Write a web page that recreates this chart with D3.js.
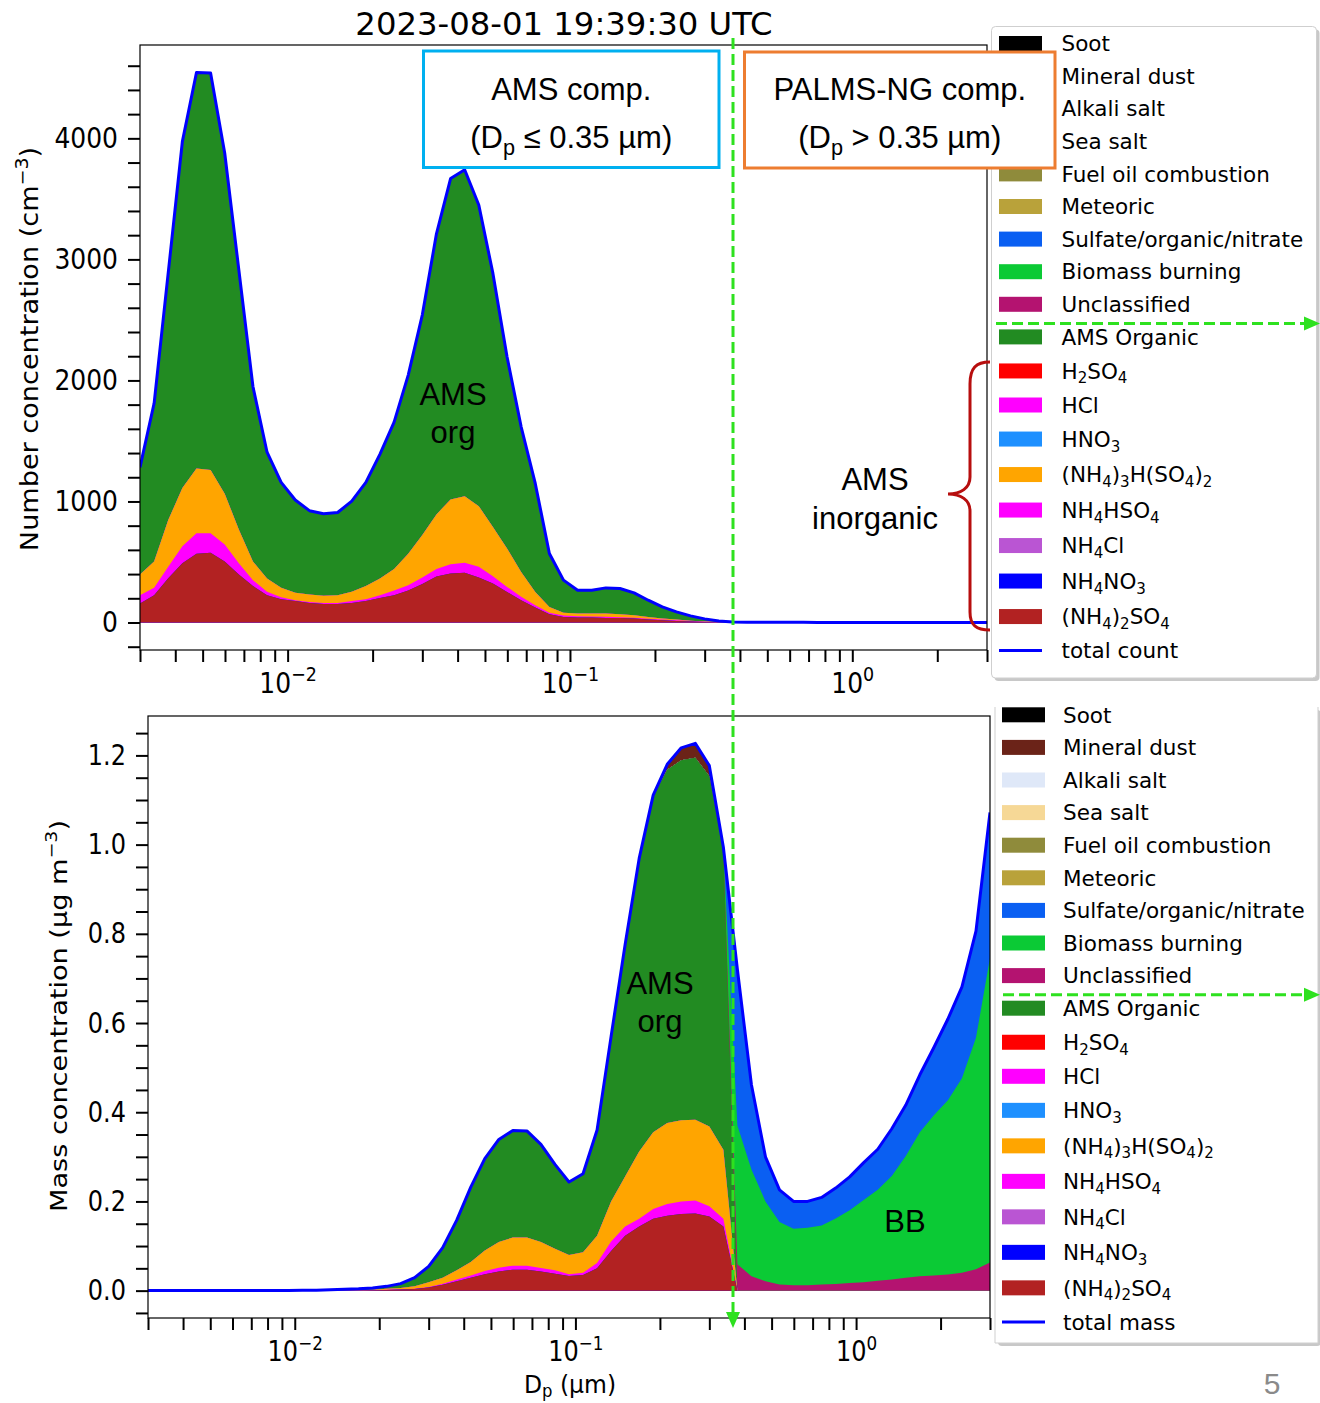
<!DOCTYPE html>
<html>
<head>
<meta charset="utf-8">
<script src="https://cdn.jsdelivr.net/npm/d3@7"></script>
<style>
  html, body { margin: 0; padding: 0; background: #fff; }
  svg { display: block; }
</style>
</head>
<body>
<svg id="fig" width="1320" height="1403"></svg>
<script>
// ---------------------------------------------------------------------------
// Size grid: particle diameter Dp (µm), 20 bins per decade
// ---------------------------------------------------------------------------
const dp = [
  0.003, 0.003366, 0.003777, 0.004238, 0.004755, 0.005335, 0.005986, 0.006716, 0.007536, 0.008455,
  0.009487, 0.010645, 0.011944, 0.013401, 0.015036, 0.016871, 0.018929, 0.021239, 0.02383, 0.026738,
  0.03, 0.03366, 0.037768, 0.042376, 0.047547, 0.053349, 0.059858, 0.067162, 0.075357, 0.084552,
  0.094868, 0.10645, 0.11944, 0.13401, 0.15036, 0.16871, 0.18929, 0.21239, 0.2383, 0.26738,
  0.3, 0.3366, 0.37768, 0.42376, 0.47547, 0.53349, 0.59858, 0.67162, 0.75357, 0.84552,
  0.94868, 1.0645, 1.1944, 1.3401, 1.5036, 1.6871, 1.8929, 2.1239, 2.383, 2.6738, 3.0
];
// AMS species cover dp[0..42]; PALMS-NG particle classes cover dp[35..60]
const AMS_START = 0;
const PALMS_START = 35;

// ---- Number concentration (cm^-3) ----
const numAmmSulfate = [156,225,365,489,567,576,504,396,302,225,193,178,162,153,153,162,178,202,225,265,318,380,405,410,372,322,253,184,124,69,46,41,41,38,38,33,25,19,13,9,5,2,0];
const numAmmBisulfate = [69,62,95,140,171,162,141,93,47,30,16,6,7,9,9,16,15,23,40,43,53,62,77,83,88,61,41,28,19,11,12,11,9,9,6,7,7,6,5,3,2,1,0];
const numLetovicite = [171,217,386,482,535,522,419,280,155,109,78,62,62,59,63,77,109,139,177,259,351,451,535,551,501,407,318,206,110,49,22,22,24,27,25,20,14,8,7,2,2,1,0];
const numAmsOrganic = [886,1307,2044,2862,3271,3279,2815,2146,1446,1043,871,766,693,678,684,748,856,1027,1213,1477,1820,2318,2651,2696,2488,2094,1583,1199,896,441,270,193,193,212,212,185,138,96,63,41,21,8,0];
const numSulfOrgNit = [0,0,0,0,0,0,0, 1.0,0.7,0.5,0.4,0.3,0.25,0.2,0.18,0.15,0.13,0.12,0.1,0.09,0.08,0.07,0.06,0.05,0.05,0.05];
const numBiomass = [0,0,0,0,0,0,0, 2.4,1.9,1.5,1.2,1.0,0.85,0.7,0.6,0.5,0.45,0.4,0.35,0.3,0.28,0.25,0.22,0.2,0.18,0.16];
const numUnclassified = [0,0,0,0,0,0,0, 0.6,0.3,0.2,0.15,0.1,0.1,0.1,0.1,0.08,0.08,0.07,0.06,0.05,0.05,0.04,0.04,0.04,0.03,0.03];

// ---- Mass concentration (µg m^-3) ----
const massAmmSulfate = [0,0,0,0,0,0,0,0,0,0,0,0,0, 0.0001,0.0002,0.0003,0.0008,0.0015,0.0025,0.0035,0.007,0.013,0.021,0.029,0.037,0.043,0.047,0.047,0.043,0.038,0.033,0.035,0.050,0.089,0.123,0.144,0.161,0.168,0.172,0.173,0.166,0.144, 0];
const massAmmBisulfate = [0,0,0,0,0,0,0,0,0,0,0,0,0, 0,0,0.0001,0.0002,0.0005,0.0005,0.0005,0.001,0.0027,0.0037,0.005,0.007,0.0085,0.009,0.009,0.008,0.0075,0.0038,0.005,0.012,0.021,0.021,0.017,0.022,0.026,0.028,0.029,0.023,0.017, 0];
const massLetovicite = [0,0,0,0,0,0,0,0,0,0,0,0,0, 0.0002,0.0003,0.0006,0.001,0.002,0.003,0.0056,0.011,0.0133,0.0208,0.030,0.046,0.0575,0.063,0.063,0.058,0.0485,0.0432,0.046,0.061,0.090,0.112,0.151,0.172,0.182,0.182,0.181,0.179,0.155, 0];
const massAmsOrganic = [0.0001,0.0001,0.0001,0.0001,0.0002,0.0002,0.0002,0.0003,0.0003,0.0004,0.0005,0.0006,0.0008, 0.0017,0.0025,0.003,0.004,0.0056,0.0097,0.0194,0.0355,0.0674,0.1125,0.168,0.206,0.230,0.240,0.239,0.219,0.189,0.1635,0.176,0.237,0.370,0.520,0.657,0.753,0.792,0.807,0.812,0.785,0.672, 0];
const massMineralDust = [0,0.003,0.012,0.028,0.032,0.024,0.006, 0,0,0,0,0,0.001,0.002,0.002,0.003,0.003,0.003,0.003,0.003,0.003,0.003,0.002,0.002,0.001,0];
const massSulfOrgNit = [0,0,0,0,0,0,0, 0.35,0.19,0.10,0.072,0.061,0.058,0.061,0.066,0.072,0.081,0.088,0.103,0.111,0.126,0.149,0.180,0.203,0.238,0.326];
const massBiomass = [0,0,0,0,0,0,0, 0.311,0.239,0.179,0.140,0.127,0.129,0.132,0.147,0.163,0.184,0.204,0.232,0.273,0.323,0.359,0.391,0.436,0.519,0.683];
const massUnclassified = [0,0,0,0,0,0,0, 0.059,0.0325,0.021,0.014,0.012,0.012,0.014,0.015,0.017,0.019,0.022,0.025,0.029,0.032,0.034,0.036,0.040,0.048,0.063];

// Stack order, bottom to top ("_x" marks a subscript)
const stackKeys = [
  "(NH_4)_2SO_4", "NH_4NO_3", "NH_4Cl", "NH_4HSO_4", "(NH_4)_3H(SO_4)_2", "HNO_3", "HCl", "H_2SO_4",
  "AMS Organic", "Unclassified", "Biomass burning", "Sulfate/organic/nitrate", "Meteoric",
  "Fuel oil combustion", "Sea salt", "Alkali salt", "Mineral dust", "Soot"
];
const colors = {
  "Soot": "#000000", "Mineral dust": "#6b2318", "Alkali salt": "#dfe8f8", "Sea salt": "#f6d896",
  "Fuel oil combustion": "#8f8b3b", "Meteoric": "#b9a23a", "Sulfate/organic/nitrate": "#0a5ff2",
  "Biomass burning": "#0bca35", "Unclassified": "#b41370", "AMS Organic": "#228b22",
  "H_2SO_4": "#ff0000", "HCl": "#ff00ff", "HNO_3": "#1e90ff", "(NH_4)_3H(SO_4)_2": "#ffa500",
  "NH_4HSO_4": "#ff00ff", "NH_4Cl": "#ba55d3", "NH_4NO_3": "#0000ff", "(NH_4)_2SO_4": "#b22222"
};

// Axis ticks
const xMajorTicks = [0.01, 0.1, 1];
const xMinorTicks = [0.003,0.004,0.005,0.006,0.007,0.008,0.009,0.02,0.03,0.04,0.05,0.06,0.07,0.08,0.09,0.2,0.3,0.4,0.5,0.6,0.7,0.8,0.9,2,3];
const numMajorTicks = [0, 1000, 2000, 3000, 4000];
const numMinorTicks = [-200,200,400,600,800,1200,1400,1600,1800,2200,2400,2600,2800,3200,3400,3600,3800,4200,4400,4600];
const massMajorTicks = [0, 0.2, 0.4, 0.6, 0.8, 1.0, 1.2];
const massMinorTicks = [-0.05,0.05,0.1,0.15,0.25,0.3,0.35,0.45,0.5,0.55,0.65,0.7,0.75,0.85,0.9,0.95,1.05,1.1,1.15,1.25];
const cutoffDp = 0.378;

// ---------------------------------------------------------------------------
const AXIS_FONT = "DejaVu Sans, sans-serif";
const NOTE_FONT = "Liberation Sans, Arial, sans-serif";
const svg = d3.select("#fig");
const defs = svg.append("defs");

function buildRows(list) {
  return dp.map((d, i) => {
    const row = { dp: d };
    stackKeys.forEach(k => { row[k] = 0; });
    list.forEach(([key, values, start]) => {
      const j = i - start;
      if (j >= 0 && j < values.length) row[key] = values[j];
    });
    return row;
  });
}

const numberRows = buildRows([
  ["(NH_4)_2SO_4", numAmmSulfate, AMS_START],
  ["NH_4HSO_4", numAmmBisulfate, AMS_START],
  ["(NH_4)_3H(SO_4)_2", numLetovicite, AMS_START],
  ["AMS Organic", numAmsOrganic, AMS_START],
  ["Unclassified", numUnclassified, PALMS_START],
  ["Biomass burning", numBiomass, PALMS_START],
  ["Sulfate/organic/nitrate", numSulfOrgNit, PALMS_START]
]);
const massRows = buildRows([
  ["(NH_4)_2SO_4", massAmmSulfate, AMS_START],
  ["NH_4HSO_4", massAmmBisulfate, AMS_START],
  ["(NH_4)_3H(SO_4)_2", massLetovicite, AMS_START],
  ["AMS Organic", massAmsOrganic, AMS_START],
  ["Unclassified", massUnclassified, PALMS_START],
  ["Biomass burning", massBiomass, PALMS_START],
  ["Sulfate/organic/nitrate", massSulfOrgNit, PALMS_START],
  ["Mineral dust", massMineralDust, PALMS_START]
]);

// Writes a label with "_x" subscripts and "^x" superscripts as tspans
function rich(textSel, label, F, subShift = 0.22) {
  let shift = 0;
  label.split(/(_[0-9a-z]|\^[−0-9]+)/).filter(s => s.length).forEach(part => {
    let target = 0, size = null, str = part;
    if (part[0] === "_") { target = subShift * F; size = 0.7 * F; str = part.slice(1); }
    else if (part[0] === "^") { target = -0.42 * F; size = 0.7 * F; str = part.slice(1); }
    const t = textSel.append("tspan").attr("dy", target - shift).text(str);
    if (size) t.attr("font-size", size);
    shift = target;
  });
  return textSel;
}

function drawPanel(p) {
  const g = svg.append("g");
  const x = d3.scaleLog().domain([0.003, 3]).range([p.left, p.right]);
  const totals = p.rows.map(r => d3.sum(stackKeys, k => r[k]));
  const yMax = d3.max(totals);
  const y = d3.scaleLinear().domain([-0.05 * yMax, 1.05 * yMax]).range([p.bottom, p.top]);

  const clipId = "clip-" + p.id;
  defs.append("clipPath").attr("id", clipId).append("rect")
    .attr("x", p.left).attr("y", p.top).attr("width", p.right - p.left).attr("height", p.bottom - p.top);

  // cumulative layers painted top-down, each from zero to its stack top
  const layers = d3.stack().keys(stackKeys)(p.rows);
  const area = d3.area().x(d => x(d.data.dp)).y0(y(0)).y1(d => y(d[1]));
  const plot = g.append("g").attr("clip-path", `url(#${clipId})`);
  plot.selectAll("path.layer").data(layers.slice().reverse()).join("path")
    .attr("class", "layer").attr("fill", s => colors[s.key]).attr("d", area);
  plot.append("path").datum(p.rows)
    .attr("fill", "none").attr("stroke", "#0000ff").attr("stroke-width", 3)
    .attr("stroke-linejoin", "round")
    .attr("d", d3.line().x(r => x(r.dp)).y((r, i) => y(totals[i])));

  g.append("rect").attr("x", p.left).attr("y", p.top)
    .attr("width", p.right - p.left).attr("height", p.bottom - p.top)
    .attr("fill", "none").attr("stroke", "#000").attr("stroke-width", 1.2);

  const tidy = sel => {
    sel.select(".domain").remove();
    sel.selectAll(".tick line").attr("stroke", "#000").attr("stroke-width", 2);
  };
  // y axis
  tidy(g.append("g").attr("transform", `translate(${p.left},0)`)
    .call(d3.axisLeft(y).tickValues(p.minorY).tickSize(12).tickFormat("")));
  const ya = g.append("g").attr("transform", `translate(${p.left},0)`)
    .call(d3.axisLeft(y).tickValues(p.majorY).tickSize(12).tickPadding(10).tickFormat(p.yFormat));
  tidy(ya);
  ya.selectAll(".tick text").attr("font-family", AXIS_FONT).attr("font-size", p.font)
    .attr("fill", "#000").attr("transform", `scale(1,${p.sy})`);

  // x axis
  tidy(g.append("g").attr("transform", `translate(0,${p.bottom})`)
    .call(d3.axisBottom(x).tickValues(xMinorTicks).tickSize(12).tickFormat("")));
  const xa = g.append("g").attr("transform", `translate(0,${p.bottom})`)
    .call(d3.axisBottom(x).tickValues(xMajorTicks).tickSize(12).tickFormat(""));
  tidy(xa);
  xa.selectAll(".tick text").remove();
  xa.selectAll(".tick").append("text")
    .attr("text-anchor", "middle").attr("font-family", AXIS_FONT).attr("font-size", p.font)
    .attr("fill", "#000").attr("y", p.xLabelBase / p.sy).attr("transform", `scale(1,${p.sy})`)
    .each(function (d) {
      const e = Math.round(Math.log10(d));
      rich(d3.select(this), "10^" + (e < 0 ? "−" + (-e) : String(e)), p.font);
    });

  // axis titles
  rich(g.append("text")
    .attr("transform", `translate(${p.ylabelX},${p.ylabelY}) scale(1,${p.sy}) rotate(-90)`)
    .attr("text-anchor", "middle").attr("font-family", AXIS_FONT).attr("font-size", p.labelFont)
    .attr("fill", "#000"), p.ylabel, p.labelFont);
  if (p.xlabel) {
    rich(g.append("text")
      .attr("transform", `translate(${p.xlabelX},${p.xlabelY}) scale(1,${p.xlabelSy})`)
      .attr("text-anchor", "middle").attr("font-family", AXIS_FONT).attr("font-size", p.xlabelFont)
      .attr("fill", "#000"), p.xlabel, p.xlabelFont, 0.15);
  }
  return { x, y };
}

const numberPanel = drawPanel({
  id: "number", rows: numberRows, left: 140, right: 987, top: 45, bottom: 650,
  majorY: numMajorTicks, minorY: numMinorTicks, yFormat: d3.format("d"),
  font: 25, sy: 1.13, xLabelBase: 43, labelFont: 24,
  ylabel: "Number concentration (cm^−3)", ylabelX: 38, ylabelY: 349
});
const massPanel = drawPanel({
  id: "mass", rows: massRows, left: 148, right: 990, top: 716, bottom: 1318,
  majorY: massMajorTicks, minorY: massMinorTicks, yFormat: d3.format(".1f"),
  font: 24, sy: 1.18, xLabelBase: 43.5, labelFont: 23,
  ylabel: "Mass concentration (µg m^−3)", ylabelX: 67, ylabelY: 1016,
  xlabel: "D_p (µm)", xlabelX: 570, xlabelY: 1393, xlabelFont: 23.5, xlabelSy: 1.08
});

// title
svg.append("text").attr("x", 564).attr("y", 35).attr("text-anchor", "middle")
  .attr("font-family", AXIS_FONT).attr("font-size", 32.3).attr("fill", "#000")
  .text("2023-08-01 19:39:30 UTC");

// ---------------------------------------------------------------------------
// Legends
// ---------------------------------------------------------------------------
function drawLegend(L) {
  const g = svg.append("g");
  const F = 21.5;
  const w = L.right - L.left, h = L.bottom - L.top;
  g.append("rect").attr("x", L.left + 3).attr("y", L.top + 3).attr("width", w).attr("height", h)
    .attr("rx", 4).attr("fill", "#9a9a9a").attr("opacity", 0.55);
  g.append("rect").attr("x", L.left).attr("y", L.top).attr("width", w).attr("height", h)
    .attr("rx", L.openTop ? 0 : 4).attr("fill", "#fff")
    .attr("stroke", L.openTop ? "none" : "#cfcfcf").attr("stroke-width", 1);
  if (L.openTop) {
    g.append("path").attr("fill", "none").attr("stroke", "#cfcfcf").attr("stroke-width", 1)
      .attr("d", `M${L.left},${L.top} V${L.bottom} H${L.right} V${L.top}`);
  }
  const keys = stackKeys.slice().reverse();
  const rowH = keys.map(k => (k.includes("_") ? 35.5 : 32.6)).concat([32.6]);
  let yc = L.firstY;
  keys.forEach((k, i) => {
    g.append("rect").attr("x", L.patchX).attr("y", yc - 7.5).attr("width", 43).attr("height", 15)
      .attr("fill", colors[k]);
    rich(g.append("text").attr("x", L.textX).attr("y", yc + 0.36 * F)
      .attr("font-family", AXIS_FONT).attr("font-size", F).attr("fill", "#000"), k, F);
    yc += (rowH[i] + rowH[i + 1]) / 2;
  });
  g.append("line").attr("x1", L.patchX).attr("x2", L.patchX + 43).attr("y1", yc).attr("y2", yc)
    .attr("stroke", "#0000ff").attr("stroke-width", 3);
  g.append("text").attr("x", L.textX).attr("y", yc + 0.36 * F)
    .attr("font-family", AXIS_FONT).attr("font-size", F).attr("fill", "#000").text(L.totalLabel);
}
drawLegend({ left: 991.5, right: 1316.5, top: 26.5, bottom: 678, firstY: 43.5,
  patchX: 999, textX: 1061.5, totalLabel: "total count" });
drawLegend({ left: 995, right: 1318, top: 707, bottom: 1343, firstY: 714.8, openTop: true,
  patchX: 1002, textX: 1063, totalLabel: "total mass" });

// ---------------------------------------------------------------------------
// Instrument boxes, cutoff marker and annotations
// ---------------------------------------------------------------------------
const GREEN = "#2ee11f";
function box(x0, y0, x1, y1, stroke, line1, line2) {
  svg.append("rect").attr("x", x0).attr("y", y0).attr("width", x1 - x0).attr("height", y1 - y0)
    .attr("fill", "#fff").attr("stroke", stroke).attr("stroke-width", 3);
  const cx = (x0 + x1) / 2;
  svg.append("text").attr("x", cx).attr("y", 100).attr("text-anchor", "middle")
    .attr("font-family", NOTE_FONT).attr("font-size", 31).attr("fill", "#000").text(line1);
  rich(svg.append("text").attr("x", cx).attr("y", 148).attr("text-anchor", "middle")
    .attr("font-family", NOTE_FONT).attr("font-size", 31).attr("fill", "#000"), line2, 31);
}
box(423.5, 51, 719, 167.5, "#00b0f0", "AMS comp.", "(D_p ≤ 0.35 µm)");
box(744.5, 52, 1055, 168, "#ed7d31", "PALMS-NG comp.", "(D_p > 0.35 µm)");

const cutX = numberPanel.x(cutoffDp);
svg.append("line").attr("x1", cutX).attr("x2", cutX).attr("y1", 38).attr("y2", 1314)
  .attr("stroke", GREEN).attr("stroke-width", 3).attr("stroke-dasharray", "11,5");
svg.append("path").attr("fill", GREEN).attr("d", `M${cutX - 7},1312 L${cutX + 7},1312 L${cutX},1328 Z`);

function hArrow(yv, x0) {
  svg.append("line").attr("x1", x0).attr("x2", 1306).attr("y1", yv).attr("y2", yv)
    .attr("stroke", GREEN).attr("stroke-width", 3).attr("stroke-dasharray", "11,5");
  svg.append("path").attr("fill", GREEN).attr("d", `M1304,${yv - 7} L1320,${yv} L1304,${yv + 7} Z`);
}
hArrow(323.5, 996);
hArrow(994.7, 1003);

// inorganic brace
svg.append("path").attr("fill", "none").attr("stroke", "#b70e0e").attr("stroke-width", 3)
  .attr("d", "M990,362 C976,362 970,368 970,384 L970,477 C970,488 961,494 948,494 C961,494 970,500 970,511 L970,612 C970,625 976,630 990,630");

function note(x, y, str) {
  svg.append("text").attr("x", x).attr("y", y).attr("text-anchor", "middle")
    .attr("font-family", NOTE_FONT).attr("font-size", 31).attr("fill", "#000").text(str);
}
note(453, 405, "AMS"); note(453, 443, "org");
note(875, 490, "AMS"); note(875, 529, "inorganic");
note(660, 994, "AMS"); note(660, 1032, "org");
note(905, 1232, "BB");

svg.append("text").attr("x", 1272).attr("y", 1394).attr("text-anchor", "middle")
  .attr("font-family", NOTE_FONT).attr("font-size", 30).attr("fill", "#8a8a8a").text("5");
</script>
</body>
</html>
